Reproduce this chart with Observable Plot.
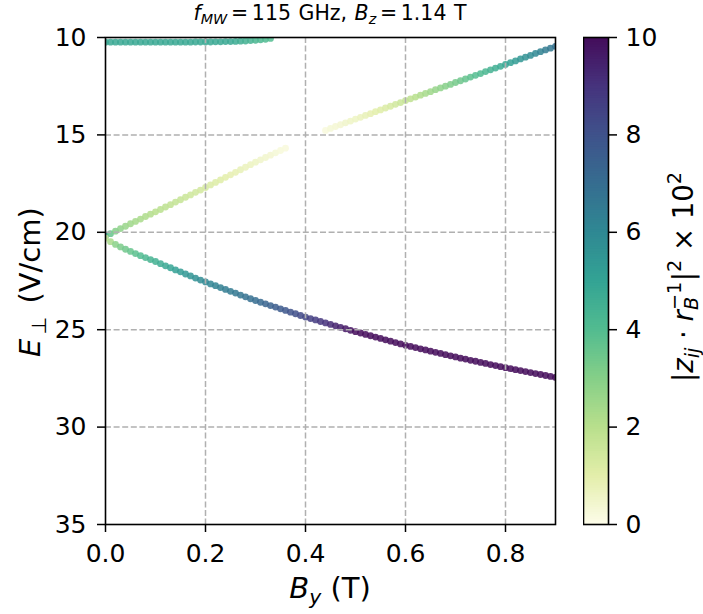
<!DOCTYPE html>
<html><head><meta charset="utf-8">
<script src="https://cdn.jsdelivr.net/npm/d3@7"></script>
<script src="https://cdn.jsdelivr.net/npm/@observablehq/plot@0.6"></script>
<style>
body{margin:0;background:#fff;}
#wrap{position:relative;width:703px;height:614px;font-family:"DejaVu Sans",sans-serif;color:#000;overflow:hidden;}
#wrap svg{position:absolute;top:0;}
.lbl{position:absolute;white-space:nowrap;line-height:1;}
.lbl sub{font-size:70%;vertical-align:baseline;position:relative;top:0.3em;}
.lbl sup{font-size:70%;vertical-align:baseline;position:relative;top:-0.62em;}
.st{display:inline-block;position:relative;font-size:70%;width:1.5em;height:0;}
.st .up{position:absolute;left:0;bottom:0.48em;}
.st .dn{position:absolute;left:0;bottom:-0.45em;}
.eq{margin:0 0.18em;}
</style></head><body><div id="wrap"></div>
<script>
// B_y sampling grid (T)
const by = [0.00,0.01,0.02,0.03,0.04,0.05,0.06,0.07,0.08,0.09,
0.10,0.11,0.12,0.13,0.14,0.15,0.16,0.17,0.18,0.19,
0.20,0.21,0.22,0.23,0.24,0.25,0.26,0.27,0.28,0.29,
0.30,0.31,0.32,0.33,0.34,0.35,0.36,0.37,0.38,0.39,
0.40,0.41,0.42,0.43,0.44,0.45,0.46,0.47,0.48,0.49,
0.50,0.51,0.52,0.53,0.54,0.55,0.56,0.57,0.58,0.59,
0.60,0.61,0.62,0.63,0.64,0.65,0.66,0.67,0.68,0.69,
0.70,0.71,0.72,0.73,0.74,0.75,0.76,0.77,0.78,0.79,
0.80,0.81,0.82,0.83,0.84,0.85,0.86,0.87,0.88,0.89,0.90];

// Top branch (E in V/cm) and colour values
const eTop = [10.24,10.24,10.24,10.24,10.24,10.24,10.24,10.24,10.24,10.24,
10.24,10.24,10.24,10.24,10.24,10.24,10.24,10.24,10.23,10.23,
10.23,10.23,10.22,10.22,10.21,10.21,10.20,10.19,10.18,10.16,
10.14,10.12,10.09,10.05];
const vTop = [4.8,4.8,4.8,4.8,4.8,4.8,4.8,4.8,4.8,4.8,
4.8,4.8,4.8,4.8,4.8,4.8,4.8,4.8,4.8,4.8,
4.8,4.8,4.8,4.8,4.8,4.8,4.7,4.6,4.5,4.4,
4.3,4.2,4.1,4.0];

// Rising branch
const eRise = [20.20,20.07,19.94,19.81,19.69,19.56,19.44,19.32,19.19,19.07,
18.95,18.83,18.70,18.58,18.45,18.33,18.20,18.08,17.95,17.83,
17.70,17.57,17.44,17.31,17.18,17.05,16.92,16.79,16.66,16.53,
16.40,16.28,16.16,16.04,15.92,15.80,15.68,null,null,null,
null,null,null,null,14.77,14.67,14.57,14.48,14.38,14.29,
14.19,14.10,14.00,13.91,13.81,13.72,13.62,13.53,13.43,13.34,
13.24,13.15,13.06,12.96,12.87,12.78,12.68,12.59,12.50,12.41,
12.31,12.22,12.13,12.03,11.94,11.85,11.75,11.66,11.57,11.48,
11.38,11.29,11.20,11.10,11.01,10.92,10.82,10.73,10.64,10.55,10.45];
const vRise = [5.5,3.6,3.0,2.8,2.6,2.5,2.4,2.3,2.2,2.1,
2.0,1.95,1.9,1.8,1.75,1.7,1.6,1.5,1.45,1.4,
1.3,1.2,1.15,1.1,1.0,0.9,0.85,0.8,0.7,0.65,
0.6,0.5,0.45,0.4,0.3,0.25,0.2,null,null,null,
null,null,null,null,0.2,0.3,0.35,0.4,0.5,0.55,
0.6,0.7,0.8,0.9,1.0,1.1,1.2,1.3,1.45,1.6,
1.7,1.86,2.02,2.18,2.34,2.5,2.66,2.82,2.98,3.14,
3.3,3.46,3.62,3.78,3.94,4.1,4.26,4.42,4.58,4.74,
4.9,5.08,5.26,5.44,5.62,5.8,6.0,6.2,6.4,6.6,6.8];

// Falling branch
const eFall = [20.30,20.48,20.62,20.75,20.87,20.98,21.09,21.20,21.30,21.40,
21.50,21.61,21.72,21.82,21.93,22.03,22.14,22.24,22.35,22.45,
22.55,22.65,22.74,22.84,22.93,23.03,23.12,23.22,23.31,23.41,
23.50,23.59,23.67,23.76,23.84,23.93,24.01,24.10,24.18,24.27,
24.35,24.43,24.50,24.58,24.65,24.73,24.80,24.88,24.95,25.03,
25.10,25.17,25.24,25.31,25.38,25.45,25.52,25.59,25.66,25.73,
25.80,25.86,25.92,25.98,26.04,26.10,26.16,26.22,26.28,26.34,
26.40,26.46,26.51,26.57,26.62,26.68,26.73,26.79,26.84,26.90,
26.95,27.00,27.05,27.10,27.15,27.20,27.25,27.30,27.35,27.40,27.45];
const vFall = [1.5,2.3,2.9,3.2,3.4,3.6,3.8,4.0,4.2,4.35,
4.5,4.65,4.8,4.95,5.1,5.25,5.4,5.55,5.7,5.85,
6.0,6.1,6.2,6.3,6.4,6.5,6.6,6.7,6.8,6.9,
7.0,7.1,7.3,7.4,7.6,7.7,7.8,8.0,8.1,8.3,
8.4,8.6,8.7,8.9,9.0,9.2,9.4,9.5,9.7,9.8,
10,10,10,10,10,10,10,10,10,10,
10,10,10,10,10,10,10,10,10,10,
10,10,10,10,10,10,10,10,10,10,
10,10,10,10,10,10,10,10,10,10,10];

const xTicks = [0.0,0.2,0.4,0.6,0.8];
const yTicks = [10,15,20,25,30,35];
const cTicks = [0,2,4,6,8,10];
const cStops = [0,1,2,3,4,5,6,7,8,9,10];
const cColors = ["#fdfce9","#e3eeaa","#b8df8c","#85cf88","#52bc90","#33a394",
                 "#2f8893","#366d90","#3f528b","#46337d","#440c5a"];

const rows = [];
function addBranch(es, vs){
  es.forEach((e,i)=>{ if(e!=null) rows.push({b:by[i], e:e, v:vs[i]}); });
}
addBranch(eTop, vTop);
addBranch(eRise, vRise);
addBranch(eFall, vFall);

const color = {type:"linear", domain:cStops, range:cColors, clamp:true};
const font = {fontFamily:"DejaVu Sans, sans-serif", fontSize:"25px", color:"black", background:"transparent"};
const gridStyle = {stroke:"#b0b0b0", strokeOpacity:1, strokeWidth:1.5, strokeDasharray:"6,2.6"};

const main = Plot.plot({
  width:703, height:614,
  marginLeft:105, marginRight:148, marginTop:37, marginBottom:90,
  style:font,
  x:{domain:[0,0.9], label:null},
  y:{domain:[10,35], reverse:true, label:null},
  color,
  marks:[
    Plot.dot(rows, {x:"b", y:"e", fill:"v", r:3.4, fillOpacity:0.85, stroke:null, clip:true}),
    Plot.gridX(xTicks.slice(1), gridStyle),
    Plot.gridY(yTicks.slice(1,-1), gridStyle),
    Plot.frame({stroke:"black", strokeWidth:1.6}),
    Plot.axisX(xTicks, {tickSize:8, tickPadding:12, tickFormat:d3.format(".1f"), strokeWidth:1.5, label:null}),
    Plot.axisY(yTicks, {tickSize:8, tickPadding:11, strokeWidth:1.5, label:null})
  ]
});

const cbSteps = d3.range(0, 10, 0.05);
const cbar = Plot.plot({
  width:95, height:614,
  marginLeft:0, marginRight:70, marginTop:37, marginBottom:90,
  style:font,
  x:{domain:[0,1], axis:null},
  y:{domain:[0,10], label:null},
  color,
  marks:[
    Plot.rect(cbSteps, {x1:0, x2:1, y1:d=>d, y2:d=>Math.min(10, d+0.07), fill:d=>d+0.025}),
    Plot.frame({stroke:"black", strokeWidth:1.6}),
    Plot.axisY(cTicks, {anchor:"right", tickSize:8, tickPadding:9, strokeWidth:1.5, label:null})
  ]
});

const wrap = document.getElementById("wrap");
main.style.left = "0px";
cbar.style.left = "583px";
wrap.appendChild(main);
wrap.appendChild(cbar);

function addLabel(html, css){
  const d = document.createElement("div");
  d.className = "lbl";
  d.innerHTML = html;
  Object.assign(d.style, css);
  wrap.appendChild(d);
}
addLabel('<i>f</i><sub><i>MW</i></sub><span class="eq">=</span>115 GHz, <i>B</i><sub><i>z</i></sub><span class="eq">=</span>1.14 T',
  {left:"0px", width:"660px", textAlign:"center", top:"2.5px", fontSize:"20.5px", wordSpacing:"1px"});
addLabel('<i>B</i><sub><i>y</i></sub> (T)',
  {left:"0px", width:"660px", textAlign:"center", top:"573.5px", fontSize:"29px"});
addLabel('<i>E</i><sub>&#8239;⊥&#8239;</sub> (V/cm)',
  {left:"29.6px", top:"281.5px", fontSize:"29px", transform:"translate(-50%,-50%) rotate(-90deg)"});
addLabel('|<i>z</i><sub><i>ij</i></sub> · <i>r</i><span class="st"><span class="up">−1</span><span class="dn"><i>B</i></span></span>|<sup>2</sup> × 10<sup>2</sup>',
  {left:"684px", top:"277px", fontSize:"27.5px", transform:"translate(-50%,-50%) rotate(-90deg)"});
</script>
</body></html>
